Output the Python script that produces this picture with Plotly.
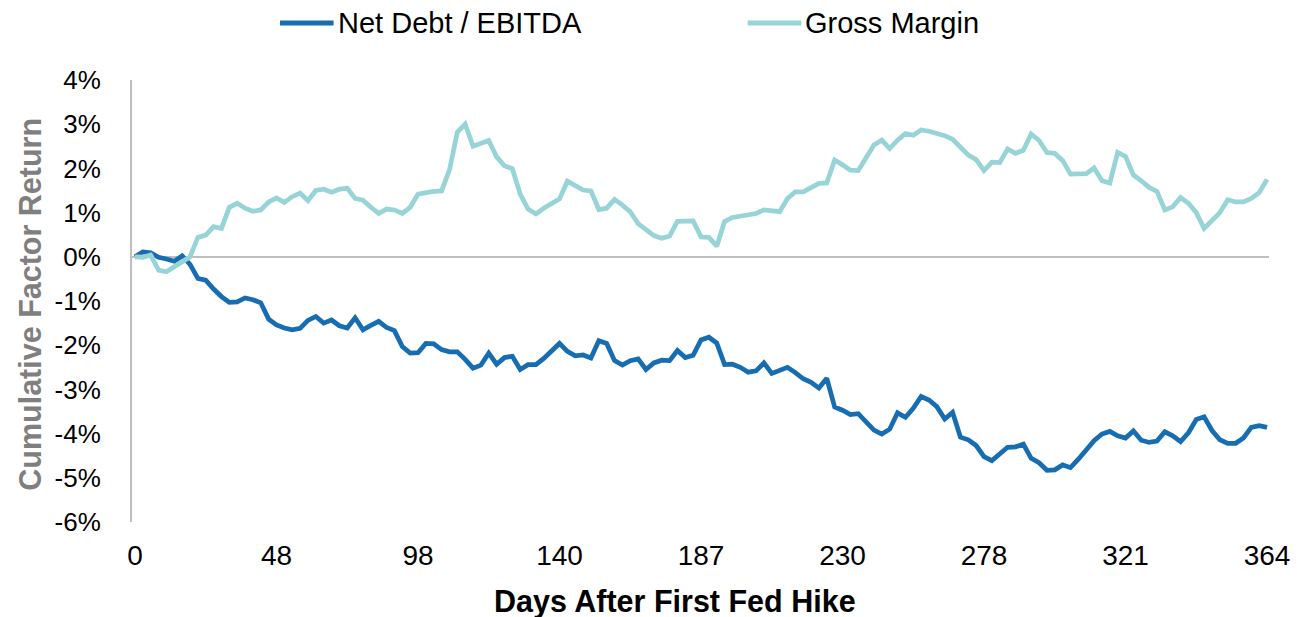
import plotly.graph_objects as go

# Cumulative factor returns (%) after the first Fed hike, one value per observation
net_debt_ebitda = [
    0.00, 0.11, 0.09, -0.01, -0.05, -0.10, 0.02, -0.17, -0.49, -0.53,
    -0.73, -0.90, -1.03, -1.02, -0.93, -0.97, -1.04, -1.41, -1.54, -1.61,
    -1.65, -1.62, -1.44, -1.35, -1.50, -1.43, -1.56, -1.61, -1.38, -1.65,
    -1.55, -1.46, -1.60, -1.67, -2.03, -2.18, -2.17, -1.96, -1.97, -2.10,
    -2.15, -2.15, -2.32, -2.52, -2.45, -2.18, -2.43, -2.28, -2.25, -2.55,
    -2.44, -2.44, -2.30, -2.14, -1.96, -2.14, -2.24, -2.22, -2.29, -1.90,
    -1.96, -2.35, -2.45, -2.35, -2.31, -2.55, -2.40, -2.34, -2.35, -2.12,
    -2.28, -2.23, -1.88, -1.82, -1.95, -2.44, -2.43, -2.50, -2.61, -2.58,
    -2.40, -2.64, -2.58, -2.50, -2.62, -2.76, -2.84, -2.97, -2.75, -3.40,
    -3.47, -3.57, -3.55, -3.74, -3.92, -4.01, -3.90, -3.53, -3.63, -3.43,
    -3.16, -3.24, -3.39, -3.67, -3.52, -4.08, -4.14, -4.27, -4.52, -4.61,
    -4.45, -4.31, -4.30, -4.24, -4.56, -4.66, -4.83, -4.82, -4.71, -4.77,
    -4.58, -4.36, -4.16, -4.01, -3.95, -4.05, -4.10, -3.94, -4.15, -4.20,
    -4.17, -3.96, -4.05, -4.18, -3.98, -3.68, -3.62, -3.93, -4.14, -4.22,
    -4.22, -4.10, -3.86, -3.82, -3.86,
]

gross_margin = [
    0.00, -0.01, 0.04, -0.30, -0.34, -0.22, -0.12, 0.00, 0.44, 0.49,
    0.68, 0.64, 1.12, 1.21, 1.10, 1.03, 1.06, 1.24, 1.33, 1.23,
    1.36, 1.44, 1.27, 1.50, 1.53, 1.46, 1.53, 1.55, 1.32, 1.28,
    1.12, 0.98, 1.08, 1.06, 0.98, 1.12, 1.42, 1.46, 1.48, 1.49,
    1.96, 2.82, 3.00, 2.50, 2.56, 2.63, 2.26, 2.06, 1.99, 1.42,
    1.08, 0.97, 1.10, 1.22, 1.31, 1.71, 1.61, 1.51, 1.49, 1.07,
    1.10, 1.30, 1.17, 1.02, 0.75, 0.60, 0.48, 0.42, 0.47, 0.80,
    0.81, 0.81, 0.45, 0.44, 0.24, 0.80, 0.89, 0.92, 0.94, 0.98,
    1.06, 1.04, 1.02, 1.32, 1.47, 1.47, 1.57, 1.66, 1.67, 2.19,
    2.08, 1.96, 1.95, 2.25, 2.53, 2.64, 2.45, 2.64, 2.79, 2.75,
    2.87, 2.84, 2.80, 2.74, 2.66, 2.48, 2.30, 2.20, 1.95, 2.14,
    2.13, 2.44, 2.34, 2.41, 2.78, 2.63, 2.36, 2.34, 2.18, 1.87,
    1.87, 1.88, 2.01, 1.72, 1.67, 2.36, 2.27, 1.85, 1.72, 1.57,
    1.48, 1.06, 1.13, 1.34, 1.21, 1.00, 0.64, 0.84, 1.00, 1.29,
    1.24, 1.24, 1.32, 1.45, 1.75,
]

# Day labels shown along the horizontal axis (every 18th observation)
day_labels = ["0", "48", "98", "140", "187", "230", "278", "321", "364"]
label_step = 18

# Percent axis ticks, written with a plain hyphen for negatives
pct_ticks = [4, 3, 2, 1, 0, -1, -2, -3, -4, -5, -6]
pct_labels = ["4%", "3%", "2%", "1%", "0%", "-1%", "-2%", "-3%", "-4%", "-5%", "-6%"]

series_names = ["Net Debt / EBITDA", "Gross Margin"]

n_obs = len(net_debt_ebitda)
obs = list(range(n_obs))
tick_positions = [k * label_step for k in range(len(day_labels))]

DARK_BLUE = "#176DB1"
LIGHT_TEAL = "#97D4D8"
AXIS_GRAY = "#BFBFBF"
FONT = "Arial, Liberation Sans, sans-serif"

W, H = 1302, 617
ML, MR, MT, MB = 132, 25, 80, 95
plot_w = W - ML - MR
plot_h = H - MT - MB


def px_x(px):
    return (px - ML) / plot_w


def px_y(py):
    return (MT + plot_h - py) / plot_h


fig = go.Figure()
for name, values, color in zip(series_names, [net_debt_ebitda, gross_margin],
                               [DARK_BLUE, LIGHT_TEAL]):
    fig.add_trace(go.Scatter(
        x=obs, y=values, mode="lines", name=name,
        line=dict(color=color, width=4.75), showlegend=False,
    ))

# Legend row across the top: a line sample followed by the series name
legend_items = [(281, series_names[0], DARK_BLUE), (752, series_names[1], LIGHT_TEAL)]
shapes = []
annotations = []
for x0, name, color in legend_items:
    shapes.append(dict(
        type="line", xref="paper", yref="paper",
        x0=px_x(x0), x1=px_x(x0 + 54), y0=px_y(23), y1=px_y(23),
        line=dict(color=color, width=5),
    ))
    annotations.append(dict(
        text=name, xref="paper", yref="paper",
        x=px_x(x0 + 56), y=px_y(23), xanchor="left", yanchor="middle",
        showarrow=False, font=dict(size=29, color="black", family=FONT),
    ))

annotations += [
    dict(
        text="<b>Days After First Fed Hike</b>", xref="paper", yref="paper",
        x=px_x(679), y=px_y(601), xanchor="center", yanchor="middle",
        showarrow=False, font=dict(size=30.5, color="black", family=FONT),
    ),
    dict(
        text="<b>Cumulative Factor Return</b>", xref="paper", yref="paper",
        x=px_x(29), y=px_y(304), xanchor="center", yanchor="middle",
        showarrow=False, textangle=-90,
        font=dict(size=30.5, color="#7F7F7F", family=FONT),
    ),
]

fig.update_layout(
    width=W, height=H,
    margin=dict(l=ML, r=MR, t=MT, b=MB, pad=0),
    paper_bgcolor="white", plot_bgcolor="white",
    font=dict(family=FONT, color="black", size=26),
    showlegend=False,
    xaxis=dict(
        range=[-0.38, n_obs - 1 + 0.25],
        tickmode="array", tickvals=tick_positions, ticktext=day_labels,
        showgrid=False, zeroline=False, showline=False, ticks="",
        tickfont=dict(size=28), ticklabelstandoff=14,
        fixedrange=True,
    ),
    yaxis=dict(
        range=[-6, 4], tickmode="array", tickvals=pct_ticks, ticktext=pct_labels,
        showgrid=False, zeroline=True, zerolinecolor=AXIS_GRAY, zerolinewidth=2,
        showline=True, linecolor=AXIS_GRAY, linewidth=2, ticks="",
        tickfont=dict(size=26), ticklabelstandoff=24,
        fixedrange=True,
    ),
    shapes=shapes,
    annotations=annotations,
)

fig.write_html("out.html")
